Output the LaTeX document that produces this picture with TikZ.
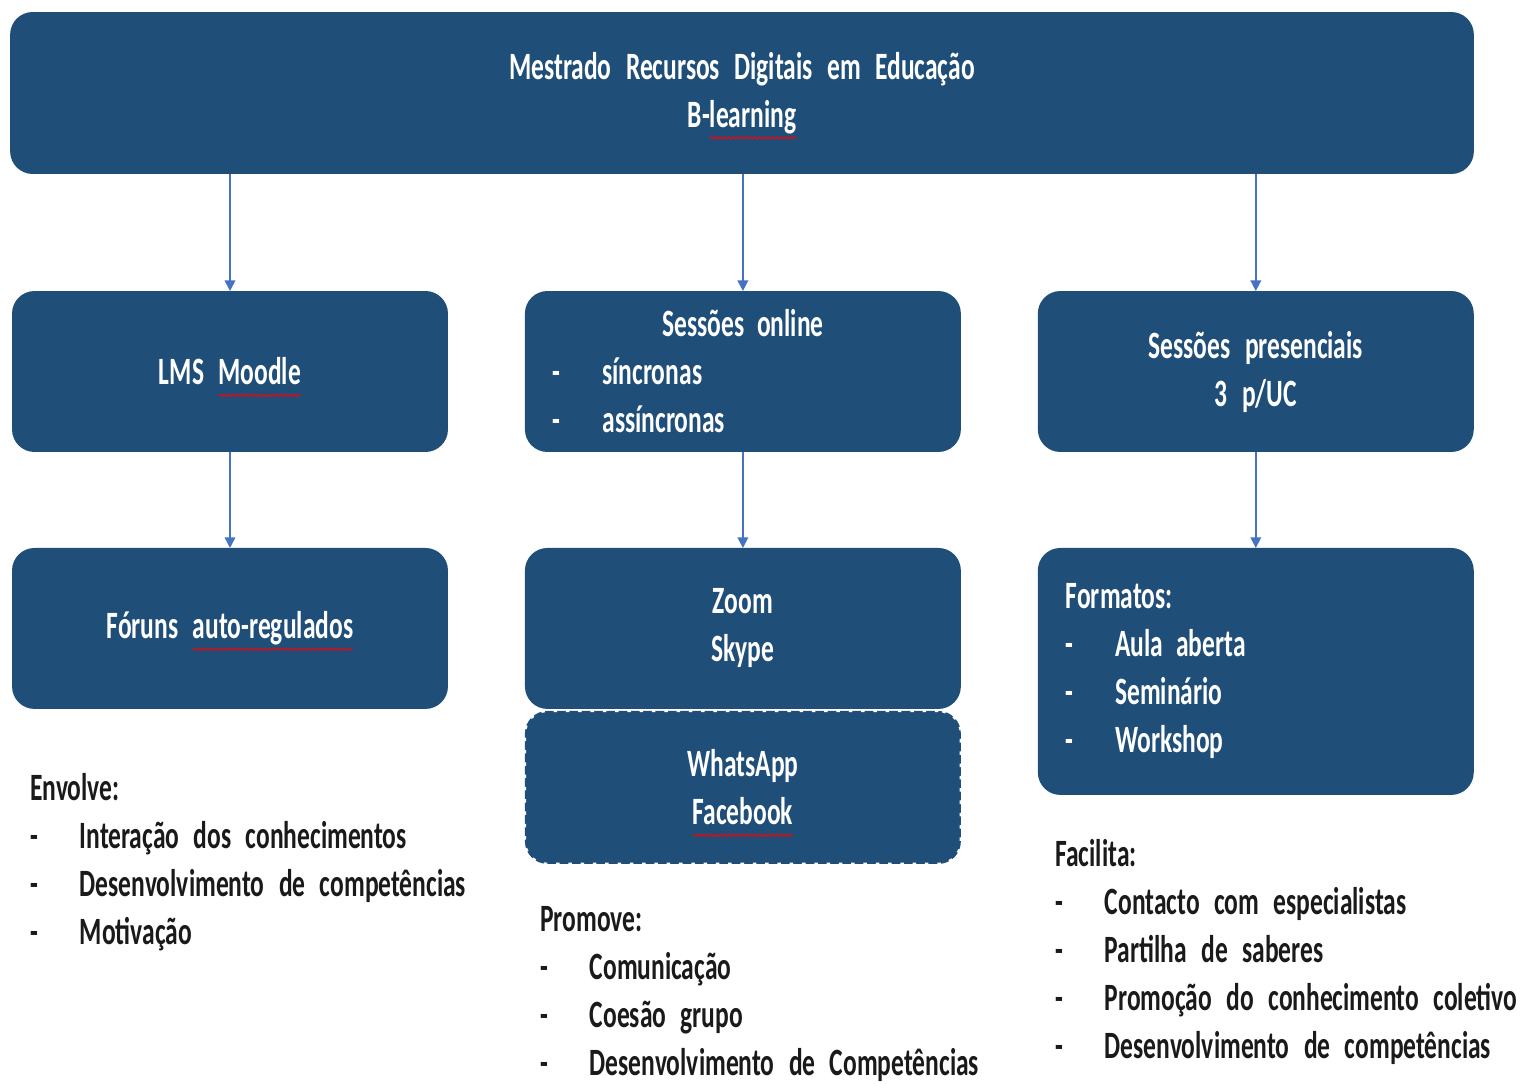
\documentclass[tikz,border=0pt]{standalone}
\usepackage{fontspec}
\setmainfont[FakeStretch=0.66,WordSpace=2.5,UprightFont=*-Bold]{Carlito}
\usepackage{tikz}
\usetikzlibrary{positioning,arrows.meta,decorations.pathmorphing}
\definecolor{boxblue}{HTML}{1F4E79}
\definecolor{linkblue}{HTML}{4472C4}
\definecolor{txtdark}{HTML}{1A1A1A}
\tikzset{
  box/.style={fill=boxblue,rounded corners=0.45cm,minimum width=8.72cm,minimum height=3.22cm,
    inner sep=0pt,outer sep=0pt,text=white,font=\bigtxt,align=center},
  socialbox/.style={box,minimum height=3.06cm,draw=white,line width=1.4pt,dash pattern=on 2pt off 5pt},
  link/.style={draw=linkblue,line width=0.9pt,-{Triangle[length=6pt,width=6pt]}},
  notes/.style={anchor=north west,text=txtdark,font=\bigtxt,align=left,inner sep=0pt},
  spellwave/.style={draw=red,fill=none,solid,sharp corners,line width=0.5pt,decorate,
    decoration={snake,amplitude=0.7pt,segment length=2.5pt}}
}
\newcommand{\bigtxt}{\fontsize{22}{27.3}\selectfont}
\newcommand{\itm}[1]{\makebox[0.99cm][l]{-}#1}
\newlength{\spellwd}
\newcommand{\spell}[1]{\settowidth{\spellwd}{#1}\rlap{\tikz[overlay,baseline=0pt]\draw[spellwave] (0pt,-6pt) -- (\spellwd,-6pt);}#1}

\begin{document}
\begin{tikzpicture}[x=0.02cm,y=-0.02cm]
  \useasboundingbox (0,0) rectangle (1528,1085);
  % top
  \node[box,minimum width=29.28cm,minimum height=3.24cm] (mrde) at (742,93)
    {Mestrado Recursos Digitais em Educação\\B-\spell{learning}};
  % second row
  \node[box] (lms) at (230,371.5) {LMS \spell{Moodle}};
  \node[box,right=1.54cm of lms,text width=7.6cm,align=left] (online)
    {\hfill Sessões online\hfill\null\\\itm{síncronas}\\\itm{assíncronas}};
  \node[box,right=1.54cm of online] (pres) {Sessões presenciais\\3 p/UC};
  % third row
  \node[box,below=1.92cm of lms] (forum) {Fóruns \spell{auto-regulados}};
  \node[box,below=1.92cm of online] (zoom) {Zoom\\Skype};
  \node[socialbox,below=0.04cm of zoom] (social) {WhatsApp\\\spell{Facebook}};
  \node[box,below=1.92cm of pres,minimum height=4.94cm,text width=7.6cm,align=left] (formatos)
    {Formatos:\\\itm{Aula aberta}\\\itm{Seminário}\\\itm{Workshop}};
  % notes
  \node[notes] (envolve) at (30,773)
    {Envolve:\\\itm{Interação dos conhecimentos}\\\itm{Desenvolvimento de competências}\\\itm{Motivação}};
  \node[notes] (promove) at (540,906)
    {Promove:\\\itm{Comunicação}\\\itm{Coesão grupo}\\\itm{Desenvolvimento de Competências}};
  \node[notes] (facilita) at (1055,839)
    {Facilita:\\\itm{Contacto com especialistas}\\\itm{Partilha de saberes}\\\itm{Promoção do conhecimento coletivo}\\\itm{Desenvolvimento de competências}};
  % links
  \draw[link] (lms |- mrde.south) -- (lms.north);
  \draw[link] (online |- mrde.south) -- (online.north);
  \draw[link] (pres |- mrde.south) -- (pres.north);
  \draw[link] (lms) -- (forum);
  \draw[link] (online) -- (zoom);
  \draw[link] (pres) -- (formatos);
\end{tikzpicture}
\end{document}
